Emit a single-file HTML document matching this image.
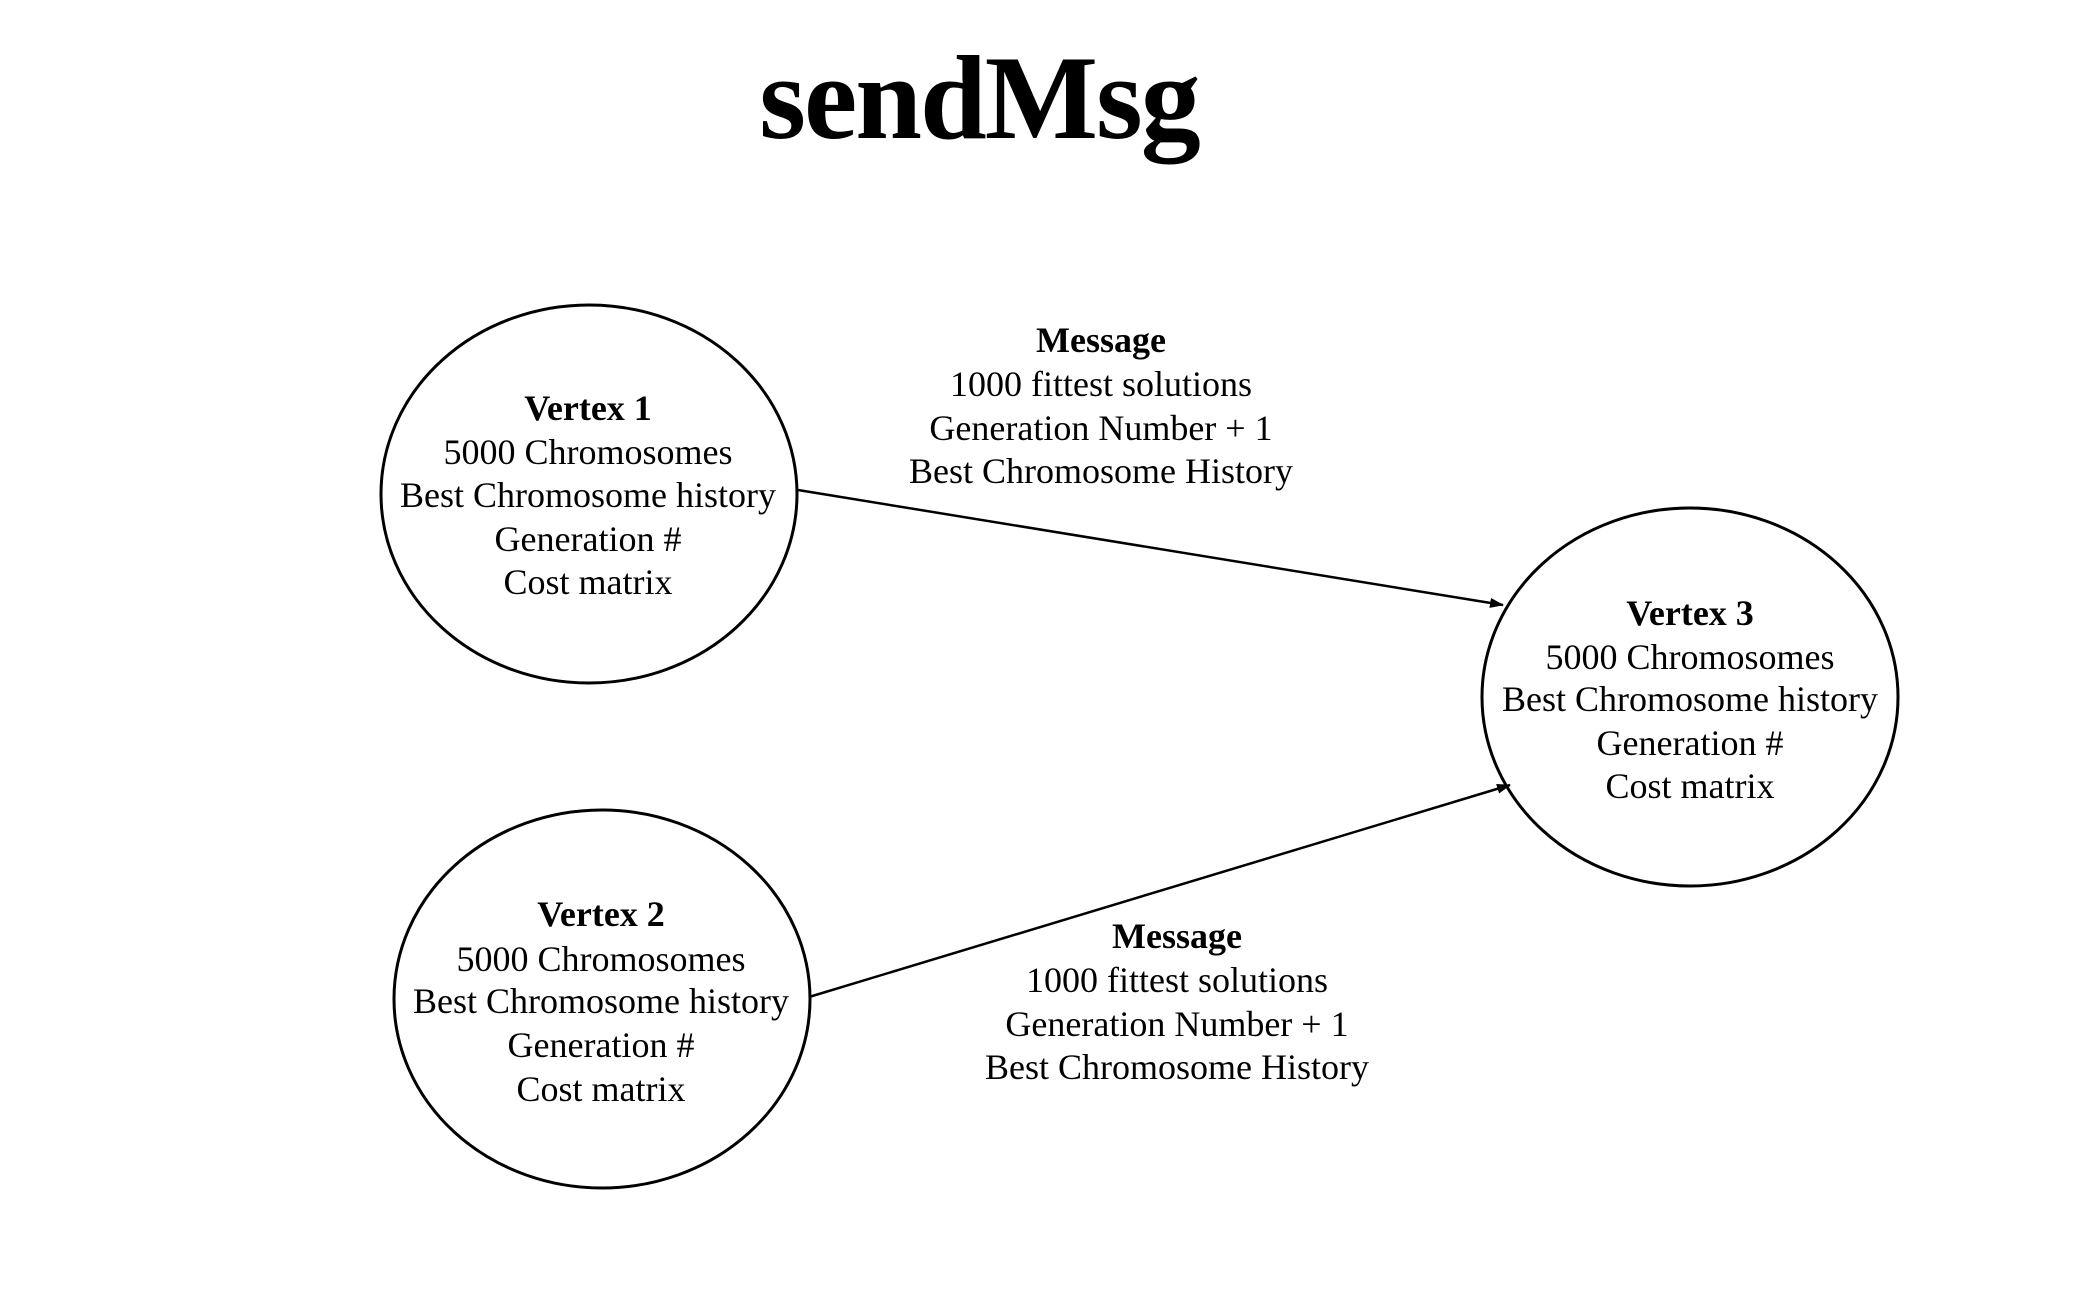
<!DOCTYPE html>
<html><head><style>
html,body{margin:0;padding:0;background:#fff;}
svg{display:block;}
text{font-family:"Liberation Serif",serif;fill:#000;}
.t{font-size:36px;}
.b{font-size:36px;font-weight:bold;}
</style></head><body>
<svg width="2084" height="1302" viewBox="0 0 2084 1302" xmlns="http://www.w3.org/2000/svg">
<defs><marker id="a" markerWidth="14" markerHeight="10" refX="13" refY="5" orient="auto" markerUnits="userSpaceOnUse"><path d="M0,0 L14,5 L0,10 z" fill="#000"/></marker></defs>
<text x="979" y="138" text-anchor="middle" font-size="120" font-weight="bold" letter-spacing="-2">sendMsg</text>
<g fill="none" stroke="#000" stroke-width="3">
<ellipse cx="589" cy="494" rx="208" ry="189"/>
<ellipse cx="602" cy="999" rx="208" ry="189"/>
<ellipse cx="1690" cy="697" rx="208" ry="189"/>
<line x1="798" y1="490" x2="1503" y2="605" stroke-width="2.5" marker-end="url(#a)"/>
<line x1="809" y1="997" x2="1510" y2="785" stroke-width="2.5" marker-end="url(#a)"/>
</g>
<g text-anchor="middle" dominant-baseline="central">
<text class="b" x="588" y="408">Vertex 1</text>
<text class="t" x="588" y="452">5000 Chromosomes</text>
<text class="t" x="588" y="495">Best Chromosome history</text>
<text class="t" x="588" y="539">Generation #</text>
<text class="t" x="588" y="582">Cost matrix</text>
<text class="b" x="601" y="914">Vertex 2</text>
<text class="t" x="601" y="959">5000 Chromosomes</text>
<text class="t" x="601" y="1001">Best Chromosome history</text>
<text class="t" x="601" y="1045">Generation #</text>
<text class="t" x="601" y="1089">Cost matrix</text>
<text class="b" x="1690" y="613">Vertex 3</text>
<text class="t" x="1690" y="657">5000 Chromosomes</text>
<text class="t" x="1690" y="699">Best Chromosome history</text>
<text class="t" x="1690" y="743">Generation #</text>
<text class="t" x="1690" y="786">Cost matrix</text>
<text class="b" x="1101" y="340">Message</text>
<text class="t" x="1101" y="384">1000 fittest solutions</text>
<text class="t" x="1101" y="428">Generation Number + 1</text>
<text class="t" x="1101" y="471">Best Chromosome History</text>
<text class="b" x="1177" y="936">Message</text>
<text class="t" x="1177" y="980">1000 fittest solutions</text>
<text class="t" x="1177" y="1024">Generation Number + 1</text>
<text class="t" x="1177" y="1067">Best Chromosome History</text>
</g>
</svg>
</body></html>
